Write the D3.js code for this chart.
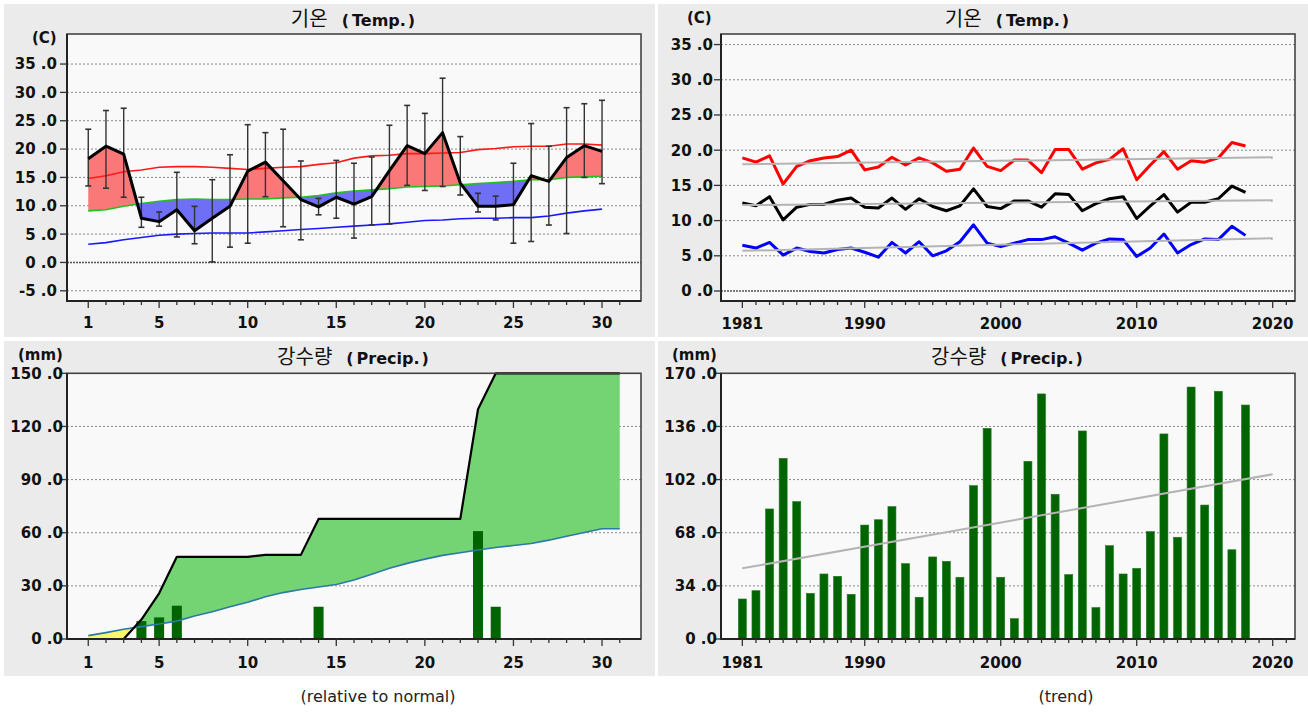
<!DOCTYPE html>
<html><head><meta charset="utf-8">
<script src="https://cdn.jsdelivr.net/npm/d3@7"></script>
<style>body{margin:0;background:#fff}svg{display:block}</style>
</head><body>
<script>
// ---------- DATA ----------
const days30 = d3.range(1, 31);
const days31 = d3.range(1, 32);
const tempMean = [18.3,20.5,19.1,7.8,7.2,9.3,5.6,7.8,9.9,16.1,17.7,14.4,11.1,9.8,11.5,10.3,11.6,16.2,20.6,19.2,22.9,14.0,9.9,9.9,10.2,15.3,14.3,18.5,20.6,19.6];
const tempHigh = [23.5,26.8,27.2,11.5,8.9,15.9,9.9,14.6,19.0,24.3,22.9,23.5,17.9,11.3,18.0,17.5,18.6,24.2,27.7,26.3,32.5,22.2,12.2,11.7,17.5,24.5,20.5,27.3,28.0,28.6];
const tempLow  = [13.5,13.1,11.5,6.2,6.4,4.5,3.3,0.1,2.7,3.4,11.6,6.3,4.0,8.4,7.8,4.3,6.6,6.8,13.6,12.7,13.4,11.9,8.9,7.5,3.4,3.7,6.6,5.1,15.0,13.9];
const normMax  = [14.8,15.3,16.0,16.3,16.8,16.9,16.9,16.8,16.6,16.4,16.6,16.8,16.9,17.3,17.6,18.4,18.8,18.9,19.2,19.2,19.3,19.4,19.9,20.1,20.4,20.5,20.5,20.9,20.9,20.7];
const normMean = [9.1,9.3,9.9,10.4,10.8,11.1,11.2,11.1,11.1,11.2,11.2,11.4,11.5,11.8,12.3,12.6,12.8,13.0,13.3,13.4,13.5,13.7,13.9,14.1,14.3,14.6,14.6,15.0,15.1,15.2];
const normMin  = [3.2,3.5,4.0,4.4,4.8,5.0,5.1,5.2,5.2,5.2,5.4,5.6,5.8,6.0,6.2,6.4,6.6,6.8,7.1,7.4,7.5,7.7,7.8,7.8,7.9,7.9,8.2,8.7,9.1,9.4];

const precipCum   = [0,0,0,11.0,25.8,46.4,46.4,46.4,46.4,46.4,47.5,47.5,47.5,67.8,67.8,67.8,67.8,67.8,67.8,67.8,67.8,67.8,129.7,150,150,150,150,150,150,150,150];
const precipNormCum = [1.9,3.6,5.5,7.0,8.5,10.1,13.0,15.4,18.2,20.7,23.9,26.2,27.9,29.4,30.8,33.3,36.5,39.9,42.7,45.1,47.2,48.7,50.2,51.7,52.8,53.9,55.8,58.0,60.1,62.2,62.2];
const precipDaily = [0,0,0,10.1,12.2,18.8,0,0,0,0,0,0,0,18.2,0,0,0,0,0,0,0,0,60.9,18.2,0,0,0,0,0,0,0];

const years = d3.range(1981, 2019);
const yrMax  = [18.9,18.3,19.2,15.2,17.7,18.5,18.9,19.1,20.0,17.2,17.6,19.0,17.9,18.9,18.2,17.0,17.3,20.3,17.7,17.1,18.6,18.6,16.8,20.1,20.1,17.3,18.2,18.7,20.2,15.8,17.9,19.8,17.3,18.5,18.3,18.9,21.1,20.6];
const yrMean = [12.5,12.1,13.4,10.1,11.9,12.3,12.3,12.9,13.2,11.9,11.8,13.2,11.6,13.1,12.0,11.4,12.1,14.5,12.0,11.7,12.8,12.8,11.9,13.8,13.7,11.4,12.4,13.1,13.4,10.3,12.1,13.7,11.2,12.6,12.6,13.1,14.9,14.0];
const yrMin  = [6.5,6.1,6.9,5.1,6.1,5.6,5.4,5.9,6.1,5.5,4.8,6.9,5.4,7.0,5.0,5.7,7.0,9.4,6.8,6.3,6.8,7.3,7.3,7.7,6.8,5.8,6.8,7.4,7.3,4.9,6.1,8.1,5.4,6.6,7.4,7.3,9.2,7.9];
const trendYears = [1981, 2020];
const trendMax  = [18.0, 19.0];
const trendMean = [12.2, 12.9];
const trendMin  = [5.7, 7.5];
const yrPrecip = [25.6,30.9,83.2,115.6,87.9,29.2,41.6,40.1,28.6,72.9,76.3,84.7,48.2,26.7,52.5,49.7,39.5,98.1,134.8,39.5,13.0,113.7,156.8,92.6,41.2,133.1,20.1,59.7,41.6,45.2,68.7,131.2,65.1,161.2,85.7,158.5,57.1,149.7];
const trendPrecip = [45.2, 105.4];

const tempTicksL = [-5,0,5,10,15,20,25,30,35];
const tempTicksR = [0,5,10,15,20,25,30,35];
const precipTicksL = [0,30,60,90,120,150];
const precipTicksR = [0,34,68,102,136,170];
const dayTicks = [1,5,10,15,20,25,30];
const yearTicks = [1981,1990,2000,2010,2020];
const minorDays = d3.range(1, 32);
const minorYears = d3.range(1981, 2022);

// ---------- SETUP ----------
const W = 1308, H = 713;
const svg = d3.select("body").append("svg").attr("width", W).attr("height", H)
  .style("font-family", "'DejaVu Sans', sans-serif");
svg.append("rect").attr("width", W).attr("height", H).attr("fill", "#fff");

const panels = [[4,4,651,333],[658,4,650,333],[4,341,651,335],[658,341,650,335]];
panels.forEach(p => svg.append("rect").attr("x",p[0]).attr("y",p[1]).attr("width",p[2]).attr("height",p[3]).attr("fill","#ebebeb"));

const LX = [67, 641], RX = [721, 1295];
const TY = [301, 34], BY = [639, 373.3];

const xDay = d3.scaleLinear().domain([-0.2, 32.2]).range(LX);
const xYear = d3.scaleLinear().domain([1979.43, 2021.64]).range(RX);
const yTL = d3.scaleLinear().domain([-6.8, 40.3]).range(TY);
const yTR = d3.scaleLinear().domain([-1.42, 36.5]).range(TY);
const yBL = d3.scaleLinear().domain([0, 150]).range(BY);
const yBR = d3.scaleLinear().domain([0, 170]).range(BY);

const fmt = v => `${v} .0`;

function frame(xr, yr, y, yTicks, zeroLine) {
  const g = svg.append("g");
  g.append("rect").attr("x", xr[0]).attr("y", yr[1]).attr("width", xr[1]-xr[0]).attr("height", yr[0]-yr[1]).attr("fill", "#f9f9f9");
  yTicks.forEach(t => {
    const yy = y(t);
    if (yy > yr[1] + 1 && yy < yr[0] - 1) {
      g.append("line").attr("x1", xr[0]).attr("x2", xr[1]).attr("y1", yy).attr("y2", yy)
        .attr("stroke", t === 0 && zeroLine ? "#555" : "#8a8a8a")
        .attr("stroke-width", t === 0 && zeroLine ? 1.6 : 1)
        .attr("stroke-dasharray", t === 0 && zeroLine ? "2,1" : "2,2");
    }
  });
  return g;
}

function axes(xr, yr, x, y, yTicks, labelEnd, xTicks, minor, xLabelY) {
  const g = svg.append("g");
  g.append("rect").attr("x", xr[0]).attr("y", yr[1]).attr("width", xr[1]-xr[0]).attr("height", yr[0]-yr[1])
    .attr("fill", "none").attr("stroke", "#444").attr("stroke-width", 1.6);
  g.append("line").attr("x1", xr[0]).attr("x2", xr[0]).attr("y1", yr[1]).attr("y2", yr[0]+1).attr("stroke", "#222").attr("stroke-width", 2);
  g.append("line").attr("x1", xr[0]-1).attr("x2", xr[1]).attr("y1", yr[0]).attr("y2", yr[0]).attr("stroke", "#222").attr("stroke-width", 2);
  yTicks.forEach(t => {
    const yy = y(t);
    g.append("line").attr("x1", xr[0]-7).attr("x2", xr[0]).attr("y1", yy).attr("y2", yy).attr("stroke", "#333").attr("stroke-width", 1.3);
    g.append("text").attr("x", labelEnd).attr("y", yy).attr("dy", "0.36em").attr("text-anchor", "end")
      .attr("font-size", 15).attr("font-weight", "bold").attr("fill", "#111").text(fmt(t));
  });
  minor.forEach(t => {
    const xx = x(t);
    const major = xTicks.includes(t);
    g.append("line").attr("x1", xx).attr("x2", xx).attr("y1", yr[0]).attr("y2", yr[0] + (major ? 7 : 4))
      .attr("stroke", "#333").attr("stroke-width", 1.3);
  });
  xTicks.forEach(t => {
    g.append("text").attr("x", x(t)).attr("y", xLabelY).attr("text-anchor", "middle")
      .attr("font-size", 15).attr("font-weight", "bold").attr("fill", "#111").text(t);
  });
}

function title(cx, y, kor, eng) {
  const t = svg.append("text").attr("x", cx).attr("y", y).attr("text-anchor", "middle").attr("fill", "#111");
  t.append("tspan").attr("font-family", "'Noto Sans CJK KR', sans-serif").attr("font-size", 20).text(kor);
  t.append("tspan").attr("dx", 14).attr("font-size", 16).attr("font-weight", "bold").text("(");
  t.append("tspan").attr("dx", 3).attr("font-size", 16).attr("font-weight", "bold").text(eng);
  t.append("tspan").attr("dx", 2).attr("font-size", 16).attr("font-weight", "bold").text(")");
}
function unit(x, y, s) {
  svg.append("text").attr("x", x).attr("y", y).attr("font-size", 15).attr("font-weight", "bold").attr("fill", "#111").text(s);
}

// fill between two series, split where they cross
function fillBetween(g, xs, a, b, xs_, ys_, posColor, negColor) {
  const pts = [];
  for (let i = 0; i < xs.length; i++) {
    pts.push({x: xs[i], a: a[i], b: b[i], d: a[i] - b[i]});
    if (i < xs.length - 1) {
      const d0 = a[i] - b[i], d1 = a[i+1] - b[i+1];
      if (d0 * d1 < 0) {
        const t = d0 / (d0 - d1);
        const xa = xs[i] + t * (xs[i+1] - xs[i]);
        const va = a[i] + t * (a[i+1] - a[i]);
        pts.push({x: xa, a: va, b: va, d: 0});
      }
    }
  }
  const runs = [];
  let cur = [], sign = 0;
  pts.forEach(p => {
    if (p.d === 0) {
      cur.push(p);
      if (sign !== 0) runs.push({sign, pts: cur});
      cur = [p]; sign = 0;
    } else {
      const s = p.d > 0 ? 1 : -1;
      if (sign === 0 || sign === s) { sign = s; cur.push(p); }
      else { runs.push({sign, pts: cur}); cur = [p]; sign = s; }
    }
  });
  if (sign !== 0 && cur.length > 1) runs.push({sign, pts: cur});
  const area = d3.area().x(p => xs_(p.x)).y0(p => ys_(p.b)).y1(p => ys_(p.a));
  runs.forEach(r => {
    g.append("path").attr("d", area(r.pts)).attr("fill", r.sign > 0 ? posColor : negColor);
  });
}

// ---------- TOP LEFT ----------
{
  const g = frame(LX, TY, yTL, tempTicksL, true);
  fillBetween(g, days30, tempMean, normMean, xDay, yTL, "#fa7878", "#6e6ef6");
  const line = (arr, col, w) => g.append("path").datum(arr)
    .attr("d", d3.line().x((d, i) => xDay(days30[i])).y(d => yTL(d)))
    .attr("fill", "none").attr("stroke", col).attr("stroke-width", w).attr("stroke-linejoin", "round");
  line(normMax, "#ff1a1a", 1.6);
  line(normMean, "#22c022", 1.6);
  line(normMin, "#1a1aff", 1.6);
  days30.forEach((d, i) => {
    const xx = xDay(d);
    g.append("line").attr("x1", xx).attr("x2", xx).attr("y1", yTL(tempHigh[i])).attr("y2", yTL(tempLow[i])).attr("stroke", "#333").attr("stroke-width", 1.4);
    [tempHigh[i], tempLow[i]].forEach(v => g.append("line").attr("x1", xx-3).attr("x2", xx+3).attr("y1", yTL(v)).attr("y2", yTL(v)).attr("stroke", "#333").attr("stroke-width", 1.6));
  });
  line(tempMean, "#000", 3);
  axes(LX, TY, xDay, yTL, tempTicksL, 57, dayTicks, minorDays, 328);
  title(353, 26, "기온", "Temp.");
  unit(32, 43, "(C)");
}

// ---------- TOP RIGHT ----------
{
  const g = frame(RX, TY, yTR, tempTicksR, true);
  const line = (xsA, arr, col, w) => g.append("path").datum(arr)
    .attr("d", d3.line().x((d, i) => xYear(xsA[i])).y(d => yTR(d)))
    .attr("fill", "none").attr("stroke", col).attr("stroke-width", w).attr("stroke-linejoin", "round");
  line(years, yrMax, "#ff0000", 3);
  line(years, yrMean, "#000", 3);
  line(years, yrMin, "#0000ff", 3);
  line(trendYears, trendMax, "#b4b4b4", 2);
  line(trendYears, trendMean, "#b4b4b4", 2);
  line(trendYears, trendMin, "#b4b4b4", 2);
  axes(RX, TY, xYear, yTR, tempTicksR, 713, yearTicks, minorYears, 329);
  title(1007, 26, "기온", "Temp.");
  unit(687, 23, "(C)");
}

// ---------- BOTTOM LEFT ----------
{
  const g = frame(LX, BY, yBL, precipTicksL, false);
  fillBetween(g, days31, precipCum, precipNormCum, xDay, yBL, "#74d474", "#f8f86a");
  days31.forEach((d, i) => {
    if (precipDaily[i] > 0) {
      g.append("rect").attr("x", xDay(d) - 5).attr("width", 10)
        .attr("y", yBL(precipDaily[i])).attr("height", yBL(0) - yBL(precipDaily[i])).attr("fill", "#006400");
    }
  });
  g.append("path").datum(precipNormCum)
    .attr("d", d3.line().x((d, i) => xDay(days31[i])).y(d => yBL(d)))
    .attr("fill", "none").attr("stroke", "#2a79a6").attr("stroke-width", 1.6);
  g.append("path").datum(precipCum)
    .attr("d", d3.line().x((d, i) => xDay(days31[i])).y(d => yBL(d)))
    .attr("fill", "none").attr("stroke", "#000").attr("stroke-width", 2.2).attr("stroke-linejoin", "round");
  axes(LX, BY, xDay, yBL, precipTicksL, 63, dayTicks, minorDays, 668);
  title(353, 364, "강수량", "Precip.");
  unit(18, 360, "(mm)");
}

// ---------- BOTTOM RIGHT ----------
{
  const g = frame(RX, BY, yBR, precipTicksR, false);
  years.forEach((yv, i) => {
    g.append("rect").attr("x", xYear(yv) - 4).attr("width", 8)
      .attr("y", yBR(yrPrecip[i])).attr("height", yBR(0) - yBR(yrPrecip[i]))
      .attr("fill", "#006400").attr("stroke", "#1f7a1f").attr("stroke-width", 0.6);
  });
  g.append("path").datum(trendPrecip)
    .attr("d", d3.line().x((d, i) => xYear(trendYears[i])).y(d => yBR(d)))
    .attr("fill", "none").attr("stroke", "#b4b4b4").attr("stroke-width", 2);
  axes(RX, BY, xYear, yBR, precipTicksR, 717, yearTicks, minorYears, 668);
  title(1007, 364, "강수량", "Precip.");
  unit(672, 360, "(mm)");
}

// captions
svg.append("text").attr("x", 378).attr("y", 702).attr("text-anchor", "middle")
  .attr("font-size", 16).attr("fill", "#222").text("(relative to normal)");
svg.append("text").attr("x", 1066).attr("y", 702).attr("text-anchor", "middle")
  .attr("font-size", 16).attr("fill", "#222").text("(trend)");
</script>
</body></html>
